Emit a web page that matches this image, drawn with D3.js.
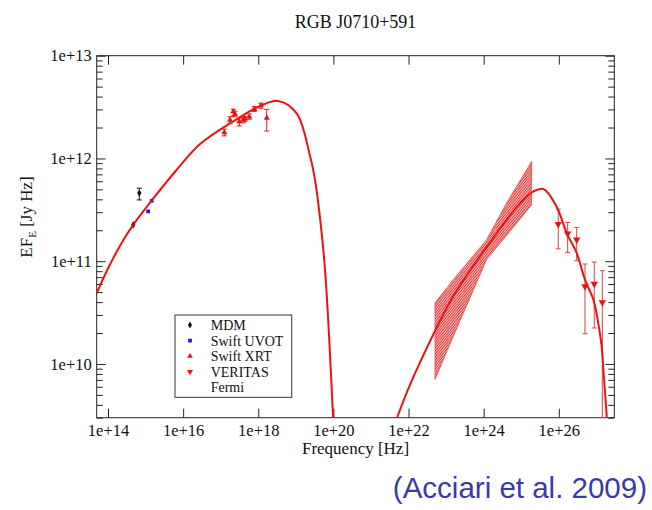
<!DOCTYPE html>
<html><head><meta charset="utf-8">
<script src="https://cdn.jsdelivr.net/npm/d3@7"></script>
<style>body{margin:0;background:#fff}svg{display:block}</style>
</head><body><svg id="c" width="652" height="510"></svg>
<script>
// ---- data ----
const title = "RGB J0710+591";
const xTickVals = [1e14,1e16,1e18,1e20,1e22,1e24,1e26];
const yTickVals = [1e10,1e11,1e12,1e13];

const mdmNu = [6.8e14, 4.7e14];
const mdmF  = [4.6e11, 2.26e11];
const mdmLo = [3.95e11, null];
const mdmHi = [5.14e11, null];

const uvotNu = [1.45e15, 1.17e15];
const uvotF  = [3.87e11, 3.05e11];

const xrtNu = [1.25e17,1.77e17,2.16e17,2.40e17,3.13e17,3.99e17,4.43e17,5.77e17,7.83e17,1.18e18,1.68e18];
const xrtF  = [1.79e12,2.37e12,2.86e12,2.71e12,2.29e12,2.37e12,2.43e12,2.55e12,3.01e12,3.27e12,2.47e12];
const xrtLo = [1.66e12,2.20e12,2.59e12,2.55e12,2.07e12,2.22e12,2.30e12,2.41e12,2.86e12,3.08e12,1.85e12];
const xrtHi = [1.93e12,2.55e12,3.01e12,2.88e12,2.47e12,2.53e12,2.57e12,2.71e12,3.19e12,3.44e12,3.01e12];

const verNu = [9.66e25,1.72e26,2.99e26,4.97e26,8.79e26,1.44e27];
const verF  = [2.30e11,1.85e11,1.62e11,5.69e10,6.00e10,3.98e10];
const verLo = [1.32e11,1.22e11,1.01e11,1.97e10,2.24e10,3.0e9];
const verHi = [3.21e11,2.38e11,2.13e11,9.40e10,9.82e10,8.09e10];

const fermiNu = [5.06e22,1.55e23,1.20e24,4.07e24,1.89e25];
const fermiHi = [3.93e10,6.61e10,1.62e11,3.68e11,9.33e11];
const fermiLo = [7.05e9,1.86e10,1.04e11,1.78e11,3.54e11];

const syncNu = [5e13,1e14,2.24e14,4.68e14,1.45e15,6.76e15,2.82e16,2.14e17,1.12e18,3.39e18,1.05e19,2.4e19,3.24e19,4.47e19,6.03e19,7.59e19,8.91e19,1e20];
const syncF  = [4.9e10,8.5e10,1.48e11,2.26e11,3.89e11,7.76e11,1.38e12,2.29e12,3.24e12,3.63e12,2.75e12,1.05e12,6.17e11,2.51e11,7.94e10,2.0e10,6.3e9,2.5e9];

const icNu = [5.01e21,9.66e21,2.01e22,1.55e23,2.24e24,9.33e24,2.09e25,3.89e25,8.71e25,1.62e26,2.99e26,4.97e26,8.32e26,1.12e27,1.38e27,1.58e27,1.82e27,1.91e27];
const icF  = [3.04e9,5.64e9,1.03e10,4.55e10,1.88e11,3.68e11,4.76e11,5.04e11,3.41e11,1.88e11,1.20e11,6.61e10,4.23e10,2.51e10,1.49e10,7.59e9,3.77e9,2.82e9];

const legendNames = ["MDM","Swift UVOT","Swift XRT","VERITAS","Fermi"];

// ---- layout ----
const svg = d3.select("#c");
const L=96.7, R=614.3, T=55.7, B=417.7;
const x = d3.scaleLog().domain([5e13,3e27]).range([L,R]);
const y = d3.scaleLog().domain([3e9,1e13]).range([B,T]);
const serif = "'Liberation Serif','Times New Roman',serif";
const RED = "#ee1111";

const defs = svg.append("defs");
defs.append("clipPath").attr("id","clip").append("rect")
  .attr("x",L).attr("y",T).attr("width",R-L).attr("height",B-T);
const pat = defs.append("pattern").attr("id","hatch").attr("patternUnits","userSpaceOnUse")
  .attr("width",1.9).attr("height",1.9).attr("patternTransform","rotate(40)");
pat.append("rect").attr("width",1.9).attr("height",1.9).attr("fill","#f6c4c4");
pat.append("line").attr("x1",0.5).attr("y1",0).attr("x2",0.5).attr("y2",1.9)
  .attr("stroke","#e02a2a").attr("stroke-width",0.9);

// minor ticks
const minorY = [];
[9,10,11,12].forEach(e=>{for(let m=2;m<=9;m++){const v=m*Math.pow(10,e); if(v>=3e9&&v<=1e13) minorY.push(v);}});

function styleAxis(g){g.select(".domain").remove(); g.selectAll("line").attr("stroke","#222");
  g.selectAll("text").attr("font-family",serif).attr("font-size","16.5px").attr("fill","#111");}

svg.append("g").attr("transform",`translate(0,${B})`)
  .call(d3.axisBottom(x).tickValues(xTickVals).tickSizeInner(-9).tickSizeOuter(0).tickPadding(7)
    .tickFormat(d=>"1e+"+Math.round(Math.log10(d)))).call(styleAxis);
svg.append("g").attr("transform",`translate(0,${T})`)
  .call(d3.axisTop(x).tickValues(xTickVals).tickSizeInner(-9).tickSizeOuter(0).tickFormat("")).call(styleAxis);
svg.append("g").attr("transform",`translate(${L},0)`)
  .call(d3.axisLeft(y).tickValues(yTickVals).tickSizeInner(-9).tickSizeOuter(0).tickPadding(5)
    .tickFormat(d=>"1e+"+Math.round(Math.log10(d)))).call(styleAxis);
svg.append("g").attr("transform",`translate(${L},0)`)
  .call(d3.axisLeft(y).tickValues(minorY).tickSizeInner(-6).tickSizeOuter(0).tickFormat("")).call(styleAxis);
svg.append("g").attr("transform",`translate(${R},0)`)
  .call(d3.axisRight(y).tickValues(yTickVals).tickSizeInner(-9).tickSizeOuter(0).tickFormat("")).call(styleAxis);
svg.append("g").attr("transform",`translate(${R},0)`)
  .call(d3.axisRight(y).tickValues(minorY).tickSizeInner(-6).tickSizeOuter(0).tickFormat("")).call(styleAxis);

svg.append("rect").attr("x",L).attr("y",T).attr("width",R-L).attr("height",B-T)
  .attr("fill","none").attr("stroke","#222").attr("stroke-width",1);

const plot = svg.append("g").attr("clip-path","url(#clip)");

// Fermi bowtie
const bowPts = fermiNu.map((n,i)=>[x(n),y(fermiHi[i])])
  .concat(fermiNu.map((n,i)=>[x(n),y(fermiLo[i])]).reverse());
plot.append("path").attr("d","M"+bowPts.join("L")+"Z")
  .attr("fill","url(#hatch)").attr("stroke","#e33").attr("stroke-width",0.7);

// error bars
function errBars(nu,lo,hi,color,w,cap){
  nu.forEach((n,i)=>{ if(lo[i]==null) return;
    const cx=x(n), y1=y(hi[i]), y2=y(lo[i]);
    plot.append("line").attr("x1",cx).attr("x2",cx).attr("y1",y1).attr("y2",y2).attr("stroke",color).attr("stroke-width",w);
    plot.append("line").attr("x1",cx-cap).attr("x2",cx+cap).attr("y1",y1).attr("y2",y1).attr("stroke",color).attr("stroke-width",w);
    plot.append("line").attr("x1",cx-cap).attr("x2",cx+cap).attr("y1",y2).attr("y2",y2).attr("stroke",color).attr("stroke-width",w);
  });
}
errBars(mdmNu,mdmLo,mdmHi,"#111",1,2.5);
errBars(xrtNu,xrtLo,xrtHi,RED,1,2.5);
errBars(verNu,verLo,verHi,"#d84444",1,2.5);

const sym = (type,size)=>d3.symbol().type(type).size(size)();
mdmNu.forEach((n,i)=>plot.append("path").attr("d",sym(d3.symbolDiamond,16))
  .attr("transform",`translate(${x(n)},${y(mdmF[i])})`).attr("fill","#111"));
uvotNu.forEach((n,i)=>plot.append("path").attr("d",sym(d3.symbolSquare,14))
  .attr("transform",`translate(${x(n)},${y(uvotF[i])})`).attr("fill","#1020d0"));
xrtNu.forEach((n,i)=>plot.append("path").attr("d",sym(d3.symbolTriangle,16))
  .attr("transform",`translate(${x(n)},${y(xrtF[i])})`).attr("fill",RED));
verNu.forEach((n,i)=>plot.append("path").attr("d",sym(d3.symbolTriangle,24))
  .attr("transform",`translate(${x(n)},${y(verF[i])}) rotate(180)`).attr("fill",RED));

// model curves
const line = d3.line().curve(d3.curveCatmullRom.alpha(0.5));
plot.append("path").attr("d",line(syncNu.map((n,i)=>[x(n),y(syncF[i])])))
  .attr("fill","none").attr("stroke",RED).attr("stroke-width",2);
plot.append("path").attr("d",line(icNu.map((n,i)=>[x(n),y(icF[i])])))
  .attr("fill","none").attr("stroke",RED).attr("stroke-width",2);

// legend
const lg = svg.append("g");
lg.append("rect").attr("x",175).attr("y",315).attr("width",116.7).attr("height",82.3)
  .attr("fill","#fff").attr("stroke","#333").attr("stroke-width",1);
const ly = i=>325+i*15.6;
lg.append("path").attr("d",sym(d3.symbolDiamond,14)).attr("transform",`translate(190,${ly(0)})`).attr("fill","#111");
lg.append("path").attr("d",sym(d3.symbolSquare,14)).attr("transform",`translate(190,${ly(1)})`).attr("fill","#1020d0");
lg.append("path").attr("d",sym(d3.symbolTriangle,14)).attr("transform",`translate(190,${ly(2)})`).attr("fill",RED);
lg.append("path").attr("d",sym(d3.symbolTriangle,16)).attr("transform",`translate(190,${ly(3)}) rotate(180)`).attr("fill",RED);
legendNames.forEach((t,i)=>lg.append("text").attr("x",210.7).attr("y",ly(i)).attr("dy","0.35em")
  .attr("font-family",serif).attr("font-size","14px").attr("fill","#111").text(t));

// titles
svg.append("text").attr("x",(L+R)/2).attr("y",28).attr("text-anchor","middle")
  .attr("font-family",serif).attr("font-size","18px").attr("fill","#111").text(title);
svg.append("text").attr("x",(L+R)/2).attr("y",454).attr("text-anchor","middle")
  .attr("font-family",serif).attr("font-size","17px").attr("fill","#111").text("Frequency [Hz]");
const yl = svg.append("text").attr("transform","translate(32,217) rotate(-90)").attr("text-anchor","middle")
  .attr("font-family",serif).attr("font-size","17px").attr("fill","#111");
yl.append("tspan").text("EF");
yl.append("tspan").attr("font-size","11px").attr("dy",4).text("E");
yl.append("tspan").attr("dy",-4).text(" [Jy Hz]");

svg.append("text").attr("x",647).attr("y",498).attr("text-anchor","end")
  .attr("font-family","'Liberation Sans',Arial,sans-serif").attr("font-size","29.5px").attr("fill","#3a3aaa")
  .text("(Acciari et al. 2009)");
</script></body></html>
